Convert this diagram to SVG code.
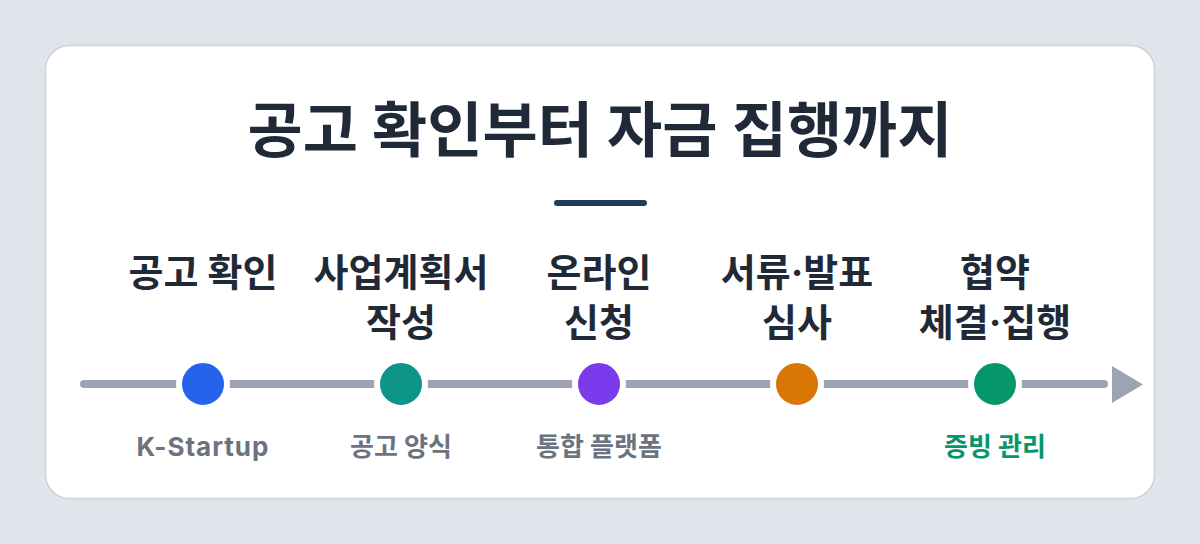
<svg xmlns="http://www.w3.org/2000/svg" width="1200" height="544" viewBox="0 0 1200 544">
<style>
.title{font-family:Inter,"Noto Sans CJK KR",sans-serif;font-weight:700;font-size:60px;fill:#1f2937;text-anchor:middle}
.step{font-family:Inter,"Noto Sans CJK KR",sans-serif;font-weight:700;font-size:38px;fill:#1f2937;text-anchor:middle}
.sub{font-family:Inter,"Noto Sans CJK KR",sans-serif;font-weight:700;font-size:26px;fill:#6b7280;text-anchor:middle}
.dot{stroke:#ffffff;stroke-width:6}
.line{stroke:#9ca3b4;stroke-width:8;stroke-linecap:round;fill:none}
</style>
<rect x="0" y="0" width="1200" height="544" fill="#e1e4eb"/>
<rect x="45.5" y="45.5" width="1109" height="453" rx="24" fill="#ffffff" stroke="#ccd3dd" stroke-width="1.5"/>
<text class="title" x="600" y="152">공고 확인부터 자금 집행까지</text>
<line x1="557" y1="203" x2="644" y2="203" stroke="#1e3a5f" stroke-width="6" stroke-linecap="round"/>
<g id="connectors">
<line class="line" x1="84" y1="384" x2="1104" y2="384"/>
<polygon points="1112,366 1143,384.5 1112,403" fill="#9ca3b4"/>
</g>
<g id="step1">
<circle class="dot" cx="203" cy="384" r="24" fill="#2563eb"/>
<text class="step" x="203" y="286">공고 확인</text>
<text class="sub" x="203" y="456" letter-spacing="1">K-Startup</text>
</g>
<g id="step2">
<circle class="dot" cx="401" cy="384" r="24" fill="#0d9488"/>
<text class="step" x="401" y="286">사업계획서</text>
<text class="step" x="401" y="336">작성</text>
<text class="sub" x="401" y="456">공고 양식</text>
</g>
<g id="step3">
<circle class="dot" cx="599" cy="384" r="24" fill="#7c3aed"/>
<text class="step" x="599" y="286">온라인</text>
<text class="step" x="599" y="336">신청</text>
<text class="sub" x="599" y="456">통합 플랫폼</text>
</g>
<g id="step4">
<circle class="dot" cx="797" cy="384" r="24" fill="#d97706"/>
<text class="step" x="797" y="286">서류·발표</text>
<text class="step" x="797" y="336">심사</text>
</g>
<g id="step5">
<circle class="dot" cx="995" cy="384" r="24" fill="#059669"/>
<text class="step" x="995" y="286">협약</text>
<text class="step" x="995" y="336">체결·집행</text>
<text class="sub" x="995" y="456" style="fill:#059669">증빙 관리</text>
</g>
</svg>
